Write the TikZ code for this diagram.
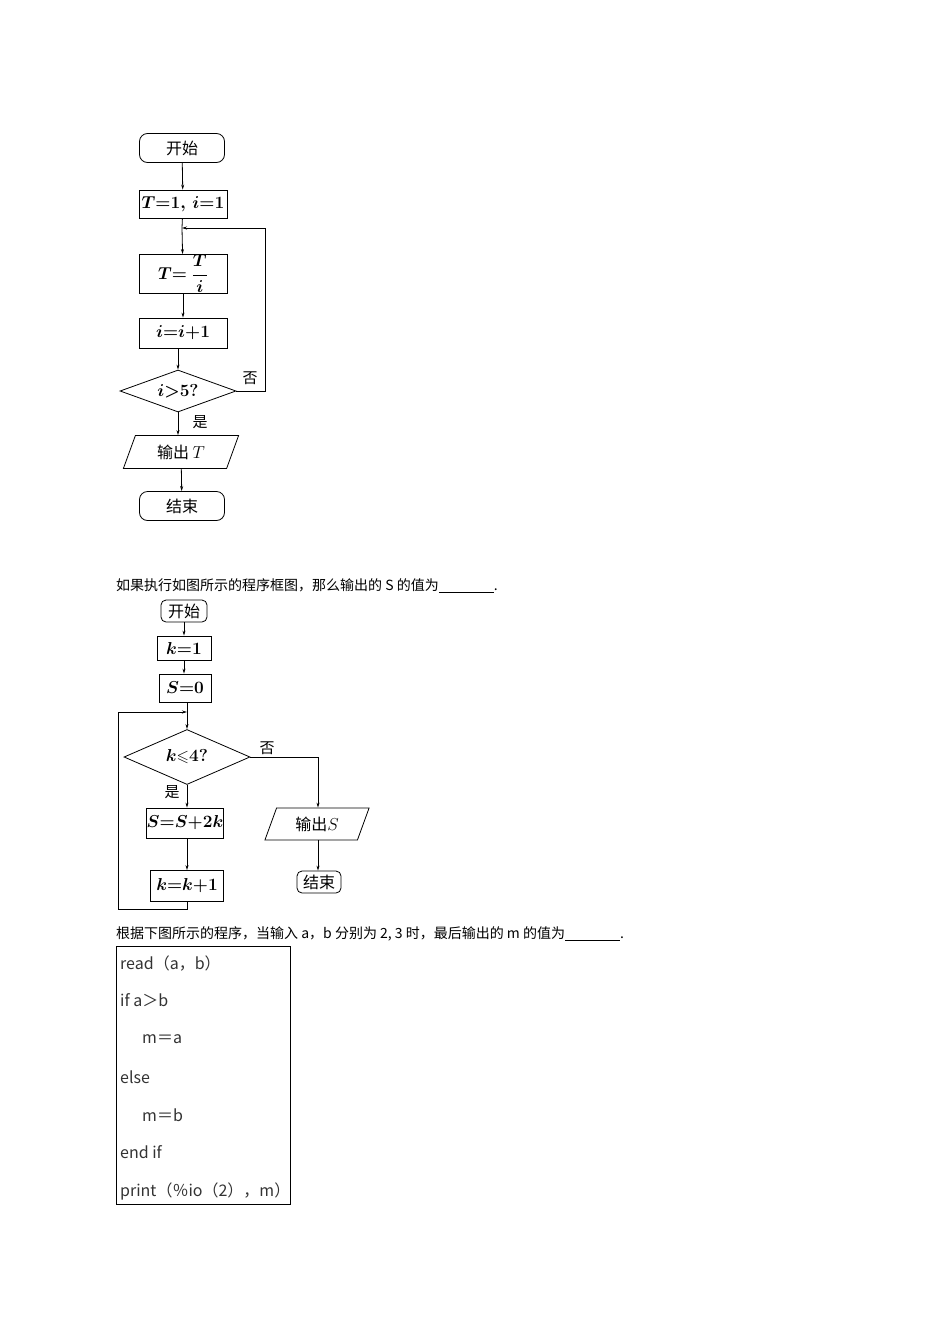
\documentclass[tikz,border=0pt]{standalone}
\usepackage{amsmath,amssymb}
\usepackage{fontspec}
\newfontfamily\cjk{Noto Sans CJK SC}
\usetikzlibrary{shapes.geometric,arrows.meta}
\begin{document}
\begin{tikzpicture}[x=1pt,y=-1pt,
  box/.style={draw,thick,minimum width=#1,inner sep=0pt,font=\fontsize{16}{18}\selectfont\boldmath},
  term/.style={draw,thick,rounded corners=8pt,inner sep=0pt,font=\fontsize{16}{18}\selectfont\cjk},
  io/.style={draw,thick,trapezium,trapezium left angle=70,trapezium right angle=110,inner sep=2pt,font=\fontsize{16}{18}\selectfont},
  arr/.style={thick,-{Stealth[length=5pt,width=3pt]}},
  lbl/.style={font=\fontsize{15}{16}\selectfont\cjk},
  txt/.style={font=\fontsize{14}{16}\selectfont\cjk,anchor=west,inner sep=0pt},
  code/.style={font=\fontsize{16}{18}\selectfont\cjk,anchor=west,inner sep=0pt,text=black!80}]
\useasboundingbox (0,0) rectangle (950,1344);
% flowchart 1
\node[term,minimum width=85pt,minimum height=29pt] (s1) at (182,148) {开始};
\node[box=88pt,minimum height=28pt] (a1) at (183,204) {$T{=}1,\,i{=}1$};
\node[box=88pt,minimum height=39pt] (b1) at (183,274) {$T{=}\ \dfrac{T}{i}$};
\node[box=88pt,minimum height=30pt] (c1) at (183,333) {$i{=}i{+}1$};
\node[draw,thick,minimum width=116pt,minimum height=42pt,inner sep=0pt,
  shape=diamond,aspect=2.76,font=\fontsize{16}{18}\selectfont\boldmath] (d1) at (178,391) {$i{>}5?$};
\node[io,minimum width=86pt,minimum height=33pt] (o1) at (181,452) {\cjk 输出 $T$};
\node[term,minimum width=85pt,minimum height=29pt] (e1) at (182,506) {结束};
\coordinate (j1) at (182,228);
\draw[arr] (s1) -- (a1);
\draw[thick] (a1) -- (j1);
\draw[arr] (j1) -- (b1);
\draw[arr] (b1) -- (c1);
\draw[arr] (c1.south -| d1.north) -- (d1.north);
\draw[arr] (d1.east) -- (265,391) -- (265,228) -- (j1);
\draw[arr] (d1.south) -- (o1.north -| d1.south);
\draw[arr] (o1) -- (e1);
\node[lbl] at (250,378) {否};
\node[lbl] at (200,422) {是};
% text
\node[txt] at (116,586) {如果执行如图所示的程序框图，那么输出的 S 的值为\underline{\hspace{55pt}}.};
% flowchart 2
\node[term,rounded corners=5pt,minimum width=46pt,minimum height=22pt] (s2) at (184,611) {开始};
\node[box=54pt,minimum height=24pt] (a2) at (184,648) {$k{=}1$};
\node[box=52pt,minimum height=28pt] (b2) at (185,688) {$S{=}0$};
\coordinate (j2) at (187,712);
\node[draw,thick,diamond,minimum width=126pt,minimum height=55pt,inner sep=0pt,aspect=2.3,font=\fontsize{16}{18}\selectfont\boldmath] (d2) at (187,757) {$k{\leqslant}4?$};
\node[box=73pt,minimum height=30pt] (c2) at (185,823) {$S{=}S{+}2k$};
\node[box=73pt,minimum height=31pt] (k2) at (187,886) {$k{=}k{+}1$};
\node[io,minimum width=80pt,minimum height=32pt] (o2) at (317,824) {\cjk 输出$S$};
\node[term,rounded corners=5pt,minimum width=44pt,minimum height=22pt] (e2) at (319,882) {结束};
\draw[arr] (s2) -- (a2);
\draw[arr] (a2) -- (a2|-b2.north);
\draw[thick] (187,702) -- (j2);
\draw[arr] (j2) -- (d2.north);
\draw[arr] (d2.south) -- (c2.north -| d2.south);
\draw[arr] (c2.south -| k2.north) -- (k2.north);
\draw[arr] (k2.south) -- (187,909) -- (118,909) -- (118,712) -- (j2);
\draw[arr] (d2.east) -- (318,757) -- (o2.north -| 318,0);
\draw[arr] (o2.south -| 318,0) -- (e2.north -| 318,0);
\node[lbl] at (267,748) {否};
\node[lbl] at (172,792) {是};
% text 2
\node[txt] at (116,934) {根据下图所示的程序，当输入 a，b 分别为 2, 3 时，最后输出的 m 的值为\underline{\hspace{55pt}}.};
% code box
\node[draw,thick,minimum width=174pt,minimum height=258pt,inner sep=0pt] (cb) at (203,1075) {};
\node[code] (l1) at (120,963) {read（a，b）};
\node[code] (l2) at (120,1000) {if a＞b};
\node[code] (l3) at (142,1039) {m＝a};
\node[code] (l4) at (120,1077) {else};
\node[code] (l5) at (142,1115) {m＝b};
\node[code] (l6) at (120,1152) {end if};
\node[code] (l7) at (120,1191) {print（％io（2），m）};
\end{tikzpicture}
\end{document}
